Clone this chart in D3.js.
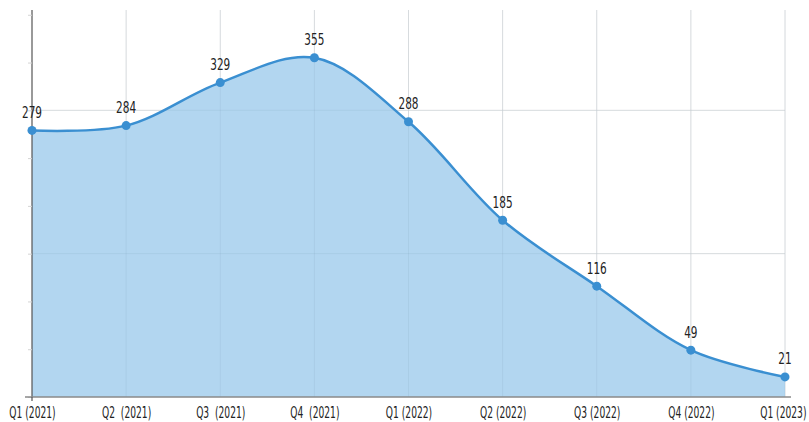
<!DOCTYPE html>
<html>
<head>
<meta charset="utf-8">
<script src="https://cdn.jsdelivr.net/npm/d3@7"></script>
<style>
  html, body { margin: 0; padding: 0; background: #fff; }
  svg { display: block; }
  text { font-family: "DejaVu Sans", sans-serif; }
</style>
</head>
<body>
<svg id="chart" width="809" height="422"></svg>
<script>
// Quarterly values
const quarters = ["Q1 (2021)", "Q2  (2021)", "Q3  (2021)", "Q4  (2021)", "Q1 (2022)", "Q2 (2022)", "Q3 (2022)", "Q4 (2022)", "Q1 (2023)"];
const values = [279, 284, 329, 355, 288, 185, 116, 49, 21];
const yTicks = [0, 50, 100, 150, 200, 250, 300, 350, 400];
const yGrid = [150, 300];

const svg = d3.select("#chart");
const plotLeft = 32, plotRight = 785, plotTop = 10, plotBottom = 397;
const axisSquash = 0.61, labelSquash = 0.7;

const x = d3.scalePoint().domain(quarters).range([plotLeft, plotRight]);
const y = d3.scaleLinear().domain([0, 405]).range([plotBottom, plotTop]);

const data = quarters.map((q, i) => ({ q, v: values[i] }));

function drawGrid(stroke, opacity) {
  svg.append("g").selectAll("line").data(quarters.slice(1)).join("line")
    .attr("x1", d => x(d)).attr("x2", d => x(d))
    .attr("y1", plotTop).attr("y2", plotBottom)
    .attr("stroke", stroke).attr("stroke-opacity", opacity).attr("stroke-width", 1);
  svg.append("g").selectAll("line").data(yGrid).join("line")
    .attr("x1", plotLeft).attr("x2", plotRight)
    .attr("y1", d => y(d)).attr("y2", d => y(d))
    .attr("stroke", stroke).attr("stroke-opacity", opacity).attr("stroke-width", 1);
}

drawGrid("#e6e6e6", 1);

const curve = d3.curveCatmullRom.alpha(0.5);

// area under the curve
svg.append("path").datum(data)
  .attr("d", d3.area().x(d => x(d.q)).y0(y(0)).y1(d => y(d.v)).curve(curve))
  .attr("fill", "#b2d6f0");

// grid stays faintly visible through the fill
drawGrid("#6f8fa8", 0.12);

svg.append("path").datum(data)
  .attr("d", d3.line().x(d => x(d.q)).y(d => y(d.v)).curve(curve))
  .attr("fill", "none").attr("stroke", "#3a8fd1").attr("stroke-width", 2.5);

// y axis (ticks without labels)
const yAxis = svg.append("g").attr("transform", `translate(${plotLeft},0)`)
  .call(d3.axisLeft(y).tickValues(yTicks).tickSize(4).tickFormat(""));
yAxis.select(".domain").attr("d", `M0,${plotTop}V${plotBottom}`).attr("stroke", "#555").attr("stroke-width", 1.2);
yAxis.selectAll(".tick line").attr("stroke", "#d4d4d4");

// x axis, labels squeezed horizontally into a condensed look
const xAxis = svg.append("g").attr("transform", `translate(0,${plotBottom})`)
  .call(d3.axisBottom(x).tickSize(0).tickPadding(10));
xAxis.select(".domain").attr("d", `M25,0H791`).attr("stroke", "#8a8a8a").attr("stroke-width", 1.5);
xAxis.selectAll(".tick text")
  .attr("font-size", 15).attr("fill", "#222")
  .style("white-space", "pre")
  .attr("font-family", null)
  .attr("transform", `scale(${axisSquash},1)`);
// keep the last label inside the canvas: right-align it near the edge
xAxis.selectAll(".tick text").filter((d, i, n) => i === n.length - 1)
  .attr("text-anchor", "end").attr("x", (806 - plotRight) / axisSquash);
svg.append("line").attr("x1", plotLeft).attr("x2", plotLeft).attr("y1", plotBottom).attr("y2", plotBottom + 4)
  .attr("stroke", "#555").attr("stroke-width", 1.2);

// points
svg.append("g").selectAll("circle").data(data).join("circle")
  .attr("cx", d => x(d.q)).attr("cy", d => y(d.v)).attr("r", 4.5)
  .attr("fill", "#3a8fd1");

// value labels
svg.append("g").selectAll("text").data(data).join("text")
  .attr("transform", d => `translate(${x(d.q)},${y(d.v) - 12.5}) scale(${labelSquash},1)`)
  .attr("text-anchor", "middle").attr("font-size", 15).attr("fill", "#222")
  .text(d => d.v);
</script>
</body>
</html>
